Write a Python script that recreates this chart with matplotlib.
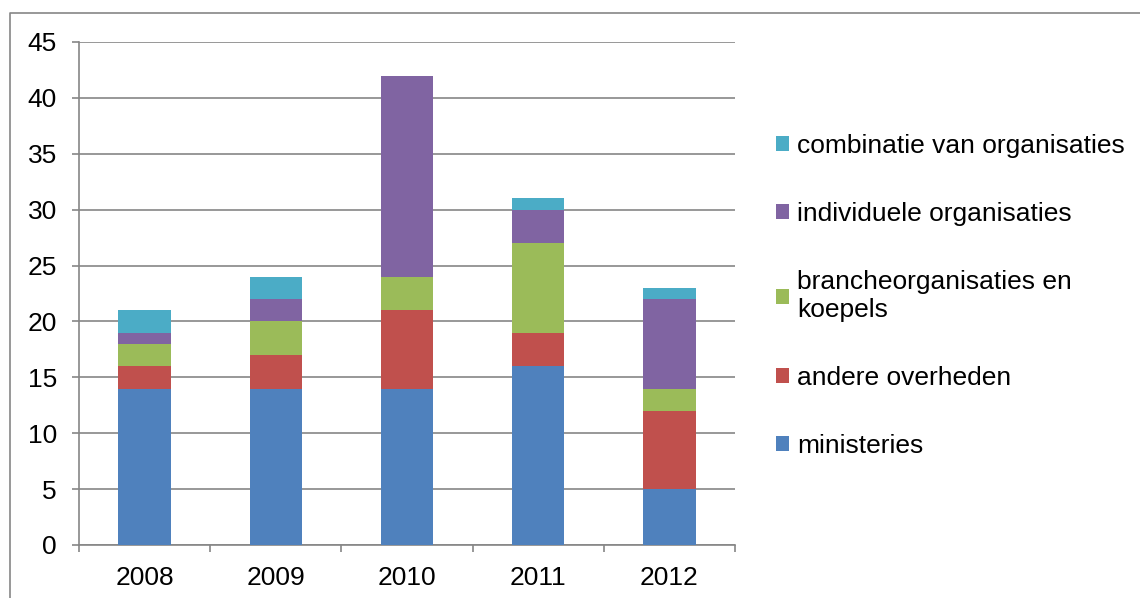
import numpy as np
import matplotlib.pyplot as plt
from matplotlib.lines import Line2D

plt.rcParams['font.family'] = ['Liberation Sans', 'DejaVu Sans']

years = ['2008', '2009', '2010', '2011', '2012']
ministeries = [14, 14, 14, 16, 5]
andere_overheden = [2, 3, 7, 3, 7]
branche = [2, 3, 3, 8, 2]
individuele = [1, 2, 18, 3, 8]
combinatie = [2, 2, 0, 1, 1]

series = [
    ('ministeries', ministeries, '#4F81BD'),
    ('andere overheden', andere_overheden, '#C0504D'),
    ('brancheorganisaties en\nkoepels', branche, '#9BBB59'),
    ('individuele organisaties', individuele, '#8064A2'),
    ('combinatie van organisaties', combinatie, '#4BACC6'),
]

fig = plt.figure(figsize=(11.4, 5.98), dpi=100)
ax = fig.add_axes([79 / 1140, 1 - 545 / 598, (735 - 79) / 1140, (545 - 42) / 598])

x = np.arange(len(years))
bottom = np.zeros(len(years))
for name, vals, col in series:
    ax.bar(x, vals, width=0.4, bottom=bottom, color=col, label=name, zorder=3)
    bottom += np.array(vals)

ax.set_xlim(-0.5, len(years) - 0.5)
ax.set_ylim(0, 45)
ax.set_yticks(range(0, 46, 5))
ax.set_xticks(x)
ax.set_xticklabels(years)
ax.set_xticks(np.arange(-0.5, len(years), 1), minor=True)

grey = '#868686'
ax.grid(axis='y', color=grey, linewidth=1.2, zorder=0)
for s in ['top', 'right']:
    ax.spines[s].set_visible(False)
for s in ['left', 'bottom']:
    ax.spines[s].set_color(grey)
    ax.spines[s].set_linewidth(1.2)
ax.tick_params(axis='y', colors=grey, labelcolor='black', length=5, width=1.2,
               pad=11, labelsize=19)
ax.tick_params(axis='x', which='major', length=0, pad=15, labelsize=19)
ax.tick_params(axis='x', which='minor', length=5, width=1.2, color=grey)

handles, labels = ax.get_legend_handles_labels()
leg = ax.legend(handles[::-1], labels[::-1], loc='center left',
                bbox_to_anchor=(1.046, 0.495), frameon=False, fontsize=19,
                handlelength=0.5, handleheight=0.5, handletextpad=0.3,
                labelspacing=1.67, borderaxespad=0)

# outer chart border (top and left edges visible)
fig.add_artist(Line2D([9.5 / 1140, 9.5 / 1140, 1], [0, 1 - 13 / 598, 1 - 13 / 598],
                      transform=fig.transFigure, color=grey, linewidth=1.2))

fig.savefig('out.png', dpi=100)
